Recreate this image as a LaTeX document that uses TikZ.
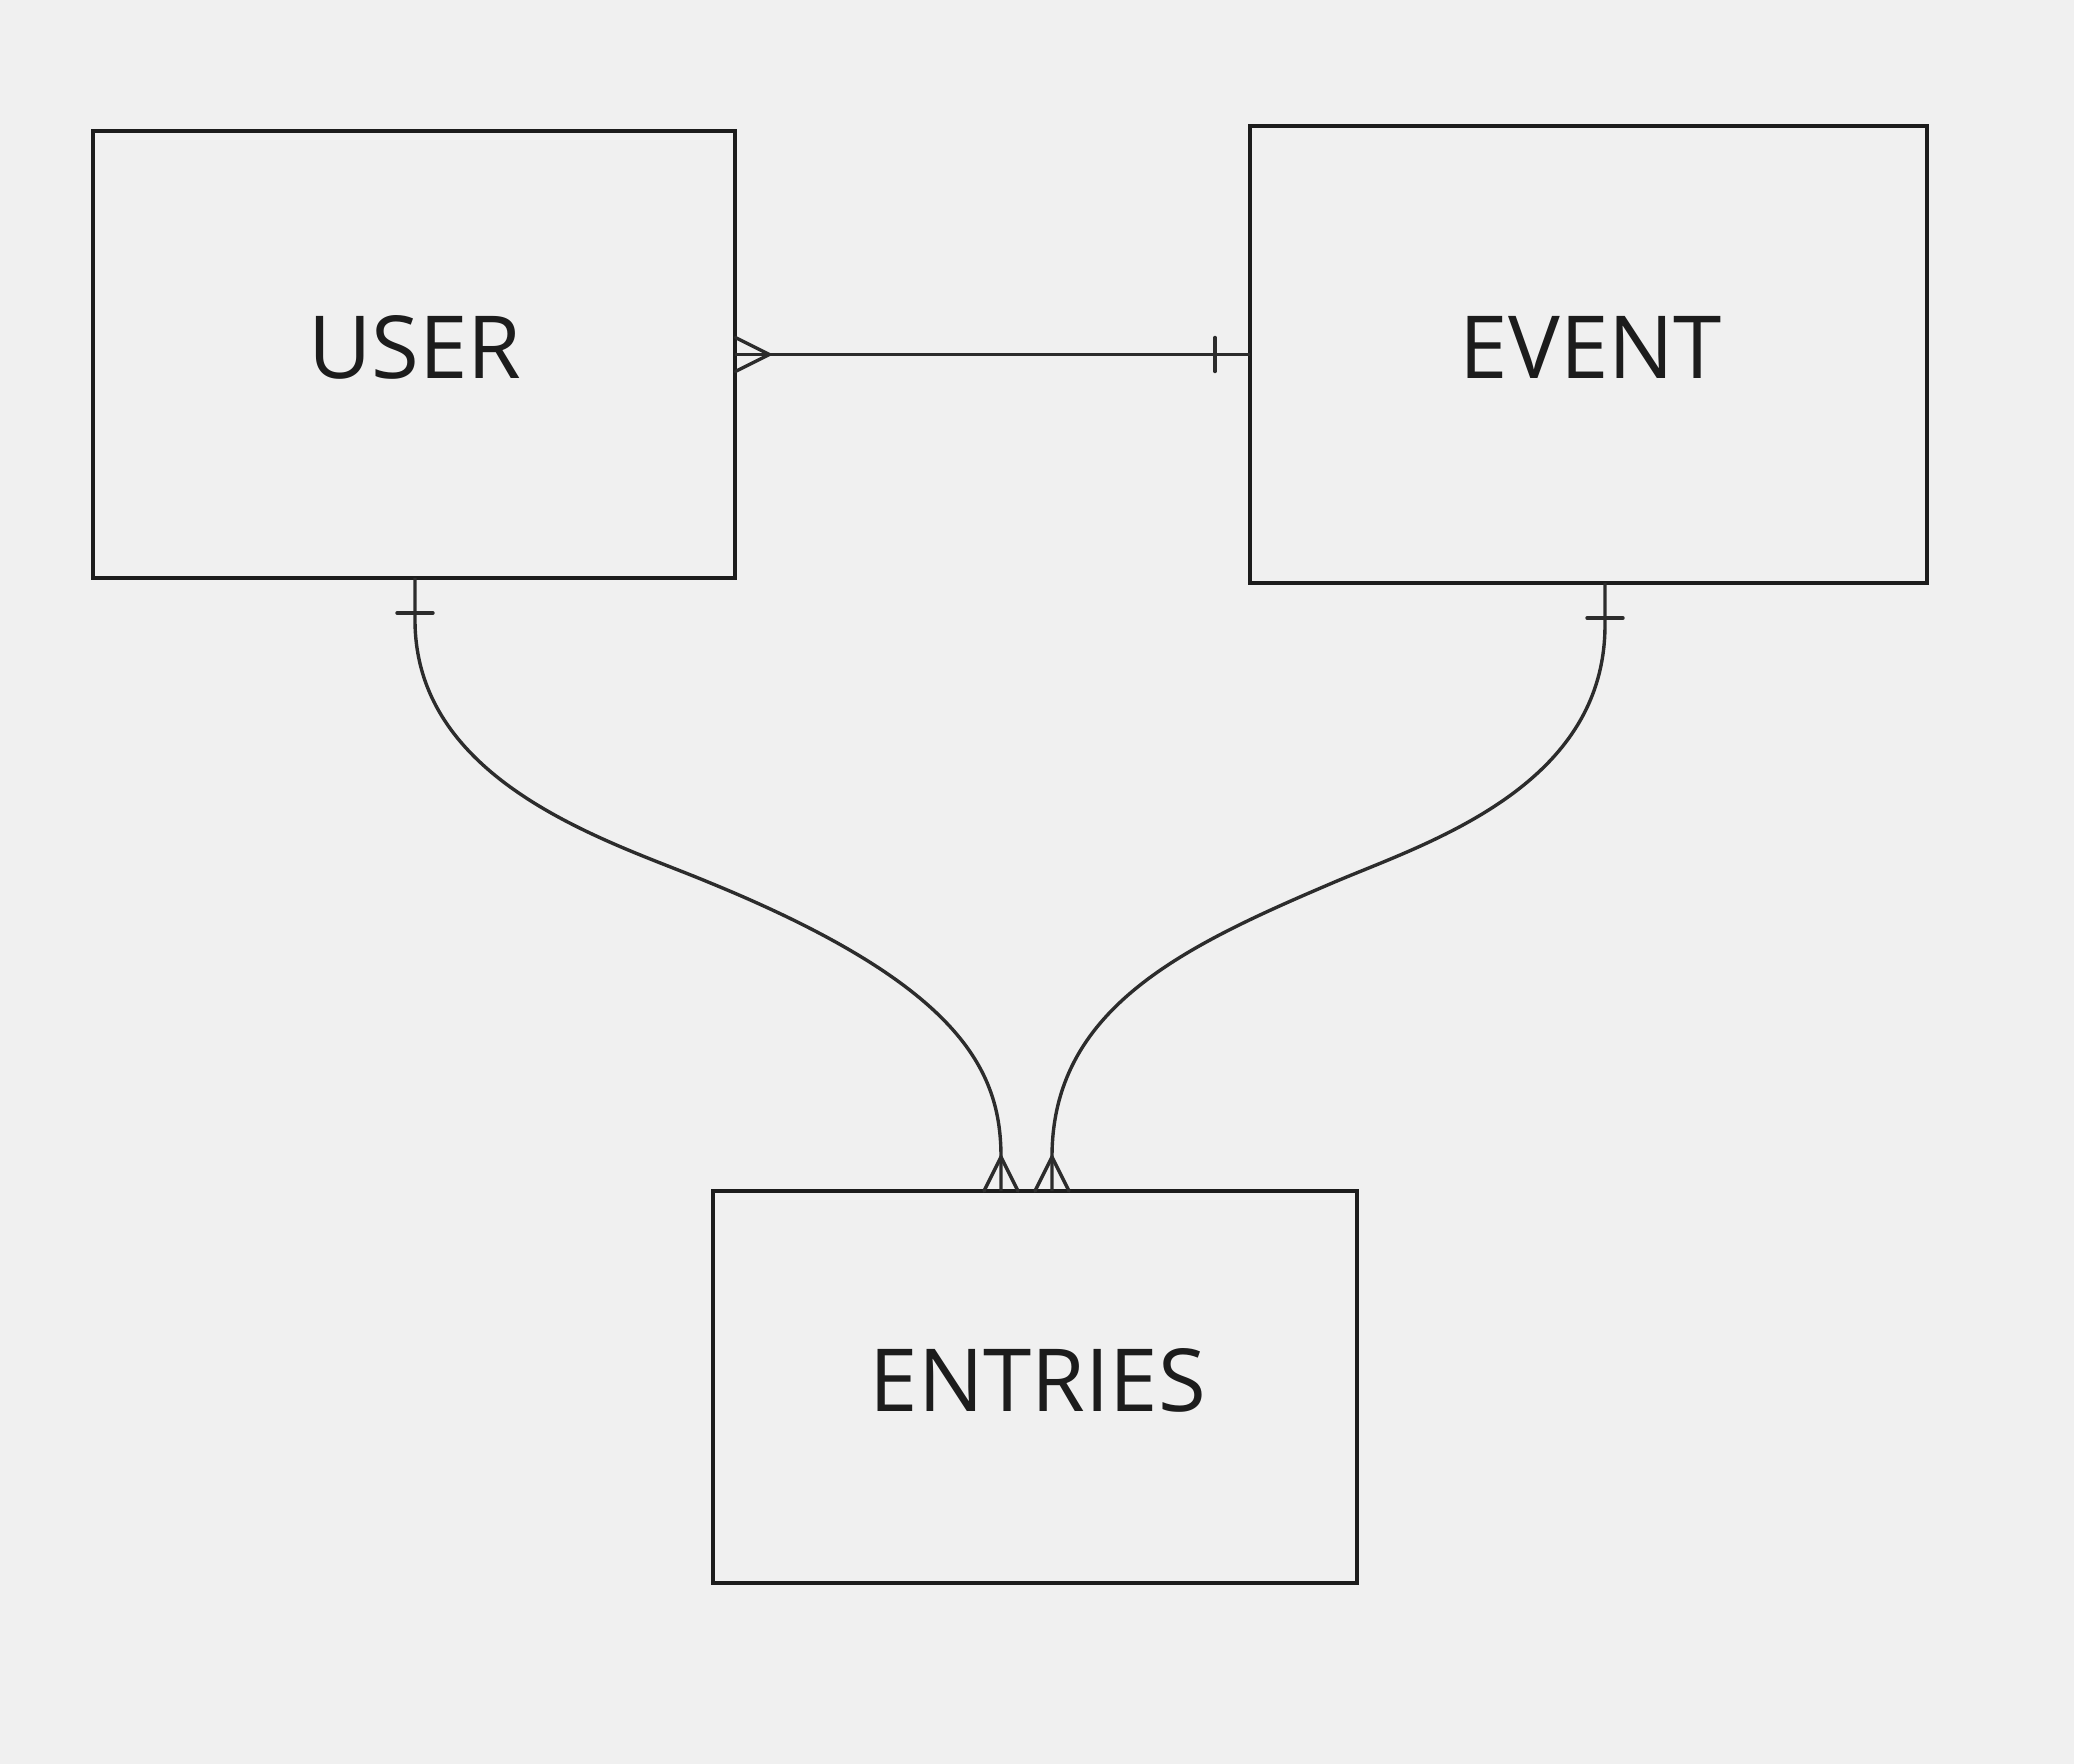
\documentclass[tikz,border=0pt]{standalone}
\usepackage{fontspec}
\setmainfont{Open Sans}
\usetikzlibrary{calc}
\definecolor{bg}{HTML}{F0F0F0}
\definecolor{boxline}{HTML}{1C1C1C}
\definecolor{conn}{HTML}{2C2C2C}
\definecolor{txt}{HTML}{1C1C1C}
\begin{document}
\begin{tikzpicture}[x=0.5pt,y=-0.5pt,
  entity/.style={draw=boxline,line width=2pt,inner sep=0pt,outer sep=0pt},
  lbl/.style={text=txt,font=\fontsize{43.5}{50}\selectfont,inner sep=0pt},
  rel/.style={draw=conn,line width=1.7pt},
  cardmark/.style={draw=conn,line width=1.7pt,line cap=round}]
\fill[bg] (0,0) rectangle (2074,1764);
\useasboundingbox (0,0) rectangle (2074,1764);
% entities
\node[entity,minimum width=321.4pt,minimum height=223.5pt] (user) at (414,354.5) {};
\node[entity,minimum width=338.5pt,minimum height=228.8pt] (event) at (1588.5,354.5) {};
\node[entity,minimum width=322pt,minimum height=195.8pt] (entries) at (1035,1387) {};
\node[lbl] (userlbl) at (415,347) {USER};
\node[lbl] (eventlbl) at (1591,347) {EVENT};
\node[lbl] (entrieslbl) at (1038,1380) {ENTRIES};
% anchor points
\coordinate (ue) at (user.east);
\coordinate (ew) at (event.west);
\coordinate (us) at (415,578);
\coordinate (es) at (1605,583);
\coordinate (ena) at (1001,1191);
\coordinate (enb) at (1052,1191);
% USER -- EVENT
\draw[rel] (ue) -- (ew);
\draw[cardmark] ($(ue)+(0,-17)$) -- ($(ue)+(34,0)$) -- ($(ue)+(0,17)$);
\draw[cardmark] ($(ew)+(-35,-17)$) -- ($(ew)+(-35,17)$);
% USER -- ENTRIES
\draw[rel] (us) -- (415,620) .. controls (415,785) and (615,843) .. (708,882)
  .. controls (960,985) and (1001,1070) .. (1001,1157) -- (ena);
\draw[cardmark] ($(us)+(-18,35)$) -- ($(us)+(18,35)$);
\draw[cardmark] ($(ena)+(-17,0)$) -- ($(ena)+(0,-34)$) -- ($(ena)+(17,0)$);
% EVENT -- ENTRIES
\draw[rel] (es) -- (1605,625) .. controls (1605,790) and (1420,845) .. (1330,884)
  .. controls (1180,948) and (1052,1010) .. (1052,1157) -- (enb);
\draw[cardmark] ($(es)+(-18,35)$) -- ($(es)+(18,35)$);
\draw[cardmark] ($(enb)+(-17,0)$) -- ($(enb)+(0,-34)$) -- ($(enb)+(17,0)$);
\end{tikzpicture}
\end{document}
